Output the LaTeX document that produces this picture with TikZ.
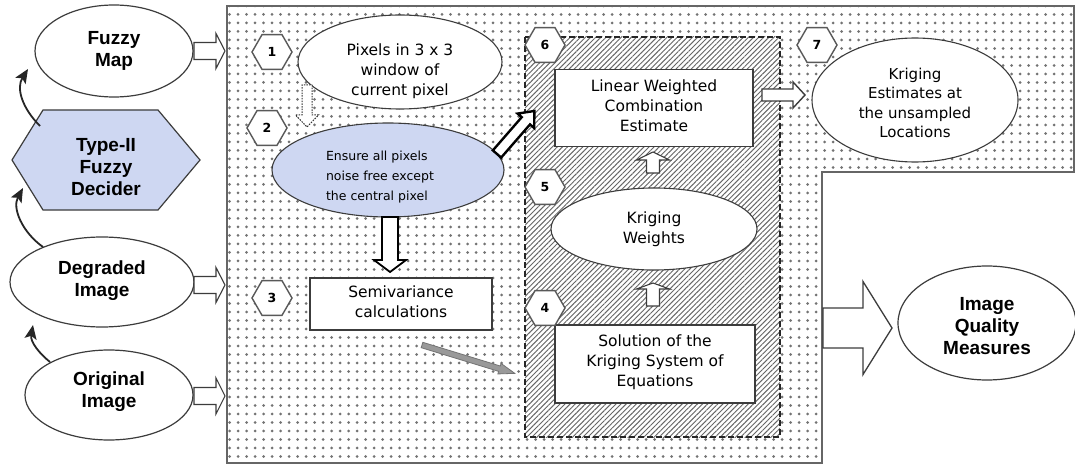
\documentclass[tikz,border=0pt]{standalone}
\usepackage{fontspec}
\setmainfont{Liberation Sans}
\newfontfamily\dv{DejaVu Sans}
\usetikzlibrary{shapes.geometric,patterns.meta,arrows.meta,calc}
\definecolor{bluefill}{RGB}{206,215,242}
\definecolor{linegray}{RGB}{60,60,60}
% block arrow: [style]{start}{angle}{length}{shaft half}{head half}{head length}
\newcommand{\blockarr}[7][]{%
  \draw[#1, shift={(#2)}, rotate=#3] (0,-#5) -- ({#4-#7},-#5) -- ({#4-#7},-#6) -- (#4,0) -- ({#4-#7},#6) -- ({#4-#7},#5) -- (0,#5) -- cycle;}
\begin{document}
\begin{tikzpicture}[x=1pt,y=-1pt,
  outer/.style={ellipse,draw=linegray,line width=1.2pt,fill=white,inner sep=0pt},
  outtext/.style={font=\bfseries\fontsize{19}{22}\selectfont,align=center,inner sep=0pt},
  inell/.style={ellipse,draw=linegray,line width=1.1pt,fill=white,inner sep=0pt},
  intext/.style={font=\dv\fontsize{15.5}{20}\selectfont,align=center,inner sep=0pt},
  stepbox/.style={draw=linegray,line width=1.1pt,fill=white,inner sep=0pt},
  badge/.style={regular polygon,regular polygon sides=6,minimum size=40pt,draw=black!65,line width=1.4pt,fill=white,inner sep=0pt,font=\dv\bfseries\fontsize{12.5}{12.5}\selectfont},
  barrow/.style={draw=linegray,line width=1.1pt,fill=white},
  curvearr/.style={line width=1.8pt,draw=black!85,-{Stealth[length=14pt,width=12pt,inset=3pt]}}
]
\useasboundingbox (0,0) rectangle (1075,465);
\fill[white] (0,0) rectangle (1075,465);

% dotted L-shaped area
\path[pattern={Dots[distance=8.5pt,radius=1.5pt]},pattern color=black!55]
  (227,6) -- (1074,6) -- (1074,172) -- (822,172) -- (822,463) -- (227,463) -- cycle;
\draw[black!60,line width=1.5pt]
  (227,6) -- (1074,6) -- (1074,172) -- (822,172) -- (822,463) -- (227,463) -- cycle;

% hatched kriging region
\fill[white] (525,37) rectangle (780,437);
\path[pattern={Lines[angle=45,distance=3.6pt,line width=0.95pt]},pattern color=black!60] (525,37) rectangle (780,437);
\draw[black!85,line width=1.4pt,dash pattern=on 6pt off 3pt] (525,37) rectangle (780,437);

% left column
\node[outer,minimum width=158pt,minimum height=92pt] (fmap) at (114,51) {};
\node[outtext] (fmapt) at (114,51) {Fuzzy\\Map};
\draw[linegray,line width=1.2pt,fill=bluefill] (12,160) -- (43,110) -- (158,110) -- (200,160) -- (158,210) -- (43,210) -- cycle;
\node[outtext] (dec) at (106,167) {Type-II\\Fuzzy\\Decider};
\node[outer,minimum width=184pt,minimum height=90pt] (deg) at (102,282) {};
\node[outtext] (degt) at (102,281) {Degraded\\Image};
\node[outer,minimum width=168pt,minimum height=90pt] (orig) at (109,395) {};
\node[outtext] (origt) at (109,392) {Original\\Image};

\coordinate (decA) at (40,126);
\coordinate (decB) at (23,188);
\coordinate (fmapA) at (28,69);
\coordinate (degA) at (43,247);
\coordinate (degB) at (33,325);
\coordinate (origA) at (50,362);
\draw[curvearr] (decA) .. controls (22,108) and (16,88) .. (fmapA);
\draw[curvearr] (degA) .. controls (22,232) and (12,208) .. (decB);
\draw[curvearr] (origA) .. controls (40,354) and (30,342) .. (degB);

\blockarr[barrow]{194,51}{0}{31}{8.5}{17.5}{9}
\blockarr[barrow]{194,285}{0}{31}{8.5}{17.5}{9}
\blockarr[barrow]{194,396}{0}{31}{8.5}{18}{9}

% step 1 & 2
\node[inell,minimum width=204pt,minimum height=94pt] (e1) at (400,62) {};
\node[intext] (e1t) at (400,71) {Pixels in 3 x 3\\window of\\current pixel};
\node[ellipse,draw=linegray,line width=1.1pt,fill=bluefill,inner sep=0pt,minimum width=232pt,minimum height=94pt] (e2) at (388,170) {};
\node[font=\dv\fontsize{12.5}{20}\selectfont,align=left,inner sep=0pt] (e2t) at (380,177) {Ensure all pixels\\noise free except\\the central pixel};
\blockarr[draw=black!80,line width=1pt,fill=white,dash pattern=on 1.5pt off 1.2pt]{307,85}{-90}{42}{5}{11.5}{12}
\blockarr[draw=black,line width=1.8pt,fill=white]{390,217}{-90}{55}{8}{16}{12}

% step 3
\node[stepbox,minimum width=182pt,minimum height=52pt] (b3) at (401,304) {};
\node[intext] (b3t) at (401,302) {Semivariance\\calculations};
\blockarr[draw=black!55,line width=0.8pt,fill=black!40]{422,345}{-17}{97}{2.8}{5.5}{16}

% diagonal arrow to box 6
\blockarr[draw=black,line width=2.4pt,fill=white]{497,154}{49}{57}{5.5}{11}{13}

% steps 4-6
\node[stepbox,minimum width=198pt,minimum height=77pt] (b6) at (654,108) {};
\node[intext] (b6t) at (654,106) {Linear Weighted\\Combination\\Estimate};
\node[inell,minimum width=206pt,minimum height=82pt] (e5) at (654,229) {};
\node[intext] (e5t) at (654,229) {Kriging\\Weights};
\node[stepbox,minimum width=200pt,minimum height=78pt] (b4) at (655,364) {};
\node[intext] (b4t) at (655,362) {Solution of the\\Kriging System of\\Equations};
\blockarr[barrow]{653,173}{90}{21}{6.5}{16.5}{8}
\blockarr[barrow]{653,306}{90}{23}{6.5}{16.5}{6}

% step 7
\node[inell,minimum width=206pt,minimum height=124pt] (e7) at (915,100) {};
\node[intext,font=\dv\fontsize{15}{19.5}\selectfont] (e7t) at (915,103) {Kriging\\Estimates at\\the unsampled\\Locations};
\blockarr[barrow,line width=1.4pt]{762,95}{0}{43}{6}{13}{12}

% image quality
\blockarr[barrow,line width=1.3pt]{823,328}{0}{69}{20}{46.5}{29}
\node[outer,minimum width=178pt,minimum height=114pt] (iqm) at (987,323) {};
\node[outtext] (iqmt) at (987,326) {Image\\Quality\\Measures};

% badges
\node[badge] (n1) at (272,52) {1};
\node[badge] (n2) at (267,128) {2};
\node[badge] (n3) at (272,298) {3};
\node[badge] (n4) at (545,308) {4};
\node[badge] (n5) at (545,187) {5};
\node[badge] (n6) at (545,45) {6};
\node[badge] (n7) at (817,45) {7};
\end{tikzpicture}
\end{document}
